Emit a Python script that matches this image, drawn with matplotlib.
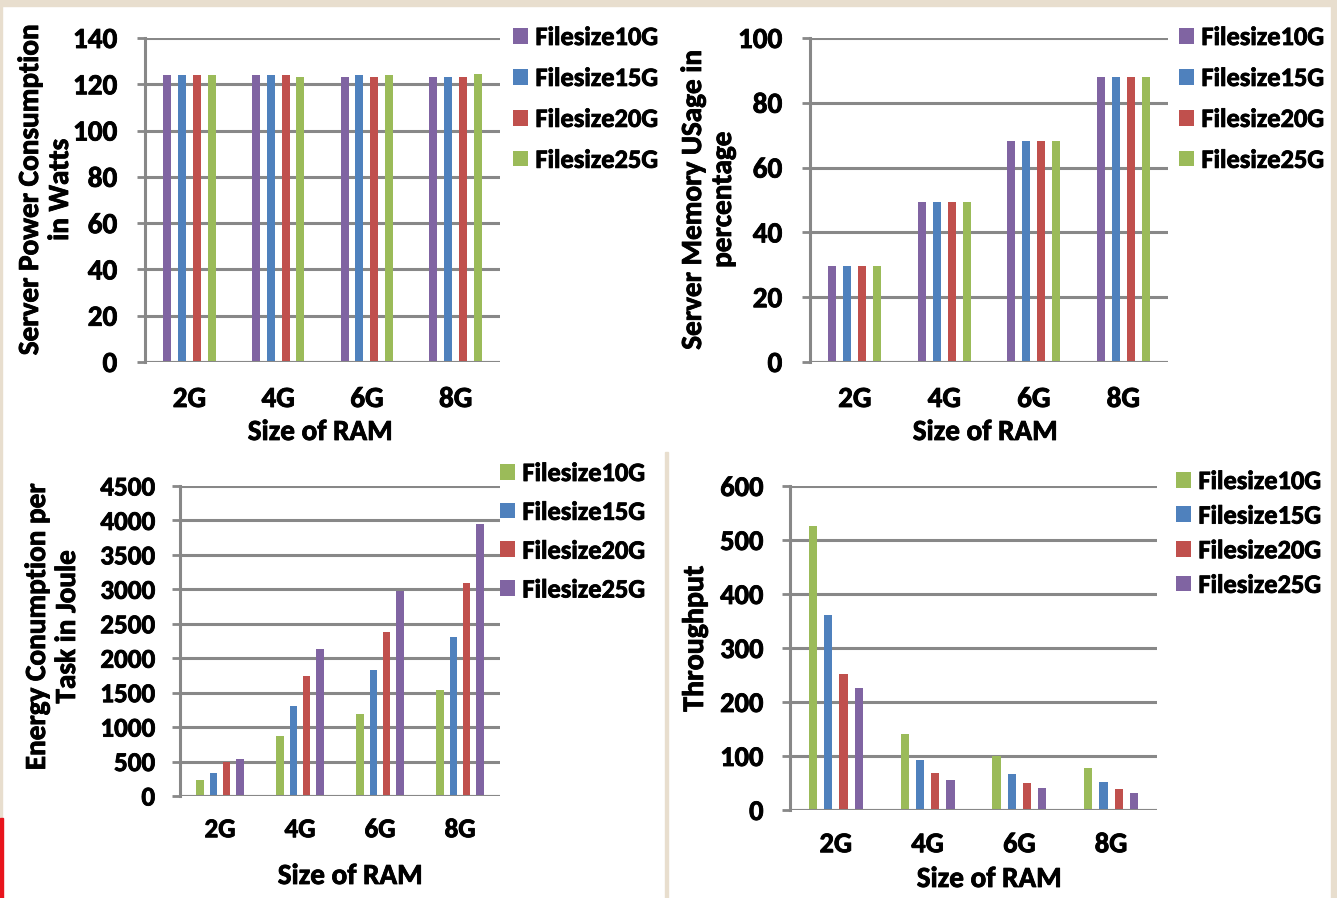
import numpy as np
import matplotlib
matplotlib.use('Agg')
import matplotlib.pyplot as plt
import matplotlib.patheffects as pe
from matplotlib.patches import Rectangle, Patch
from matplotlib.text import Text

plt.rcParams['font.family'] = ['Carlito', 'DejaVu Sans']
plt.rcParams['font.weight'] = 'bold'

W, H = 1337, 898

# data
ram = ['2G', '4G', '6G', '8G']
sizes = ['Filesize10G', 'Filesize15G', 'Filesize20G', 'Filesize25G']

power_10g = [124.2, 124.2, 123.2, 123.2]
power_15g = [124.2, 124.2, 124.2, 123.2]
power_20g = [124.2, 124.2, 123.2, 123.2]
power_25g = [124.2, 123.2, 124.2, 124.6]

mem_10g = [29.5, 49.5, 68.3, 88.0]
mem_15g = [29.5, 49.5, 68.3, 88.0]
mem_20g = [29.5, 49.5, 68.3, 88.0]
mem_25g = [29.5, 49.5, 68.3, 88.0]

energy_10g = [232, 867, 1187, 1536]
energy_15g = [334, 1313, 1836, 2311]
energy_20g = [489, 1749, 2374, 3086]
energy_25g = [533, 2141, 2970, 3953]

thr_10g = [526, 140, 100, 77]
thr_15g = [362, 93, 67, 51]
thr_20g = [252, 69, 49.5, 38]
thr_25g = [226, 55, 41, 32]

purple = '#8064A2'
blue = '#4F81BD'
red = '#C0504D'
green = '#9BBB59'
grid_c = '#888888'
beige = '#e8dece'


def px_axes(fig, x0, x1, y0, y1):
    return fig.add_axes([x0 / W, 1 - y1 / H, (x1 - x0) / W, (y1 - y0) / H])


def bar_panel(ax, series, colors, ymax, ystep, pad, fs, ypad):
    x = np.arange(len(ram))
    offs = [-1.5, -0.5, 0.5, 1.5]
    for vals, c, o in zip(series, colors, offs):
        ax.bar(x + o * 0.167, vals, width=0.09, color=c, zorder=3)
    ax.set_xlim(-0.5, 3.5)
    ax.set_ylim(0, ymax)
    ax.set_yticks(np.arange(0, ymax + 1, ystep))
    ax.set_xticks(x)
    ax.set_xticklabels(ram)
    ax.yaxis.grid(True, color=grid_c, linewidth=2.2, zorder=0)
    for s in ['top', 'right', 'bottom']:
        ax.spines[s].set_visible(False)
    ax.spines['left'].set_color(grid_c)
    ax.spines['left'].set_linewidth(2.2)
    ax.axhline(0, color=grid_c, linewidth=2.2, zorder=4)
    ax.tick_params(axis='y', length=6, width=2, color=grid_c, labelsize=fs, pad=ypad)
    ax.tick_params(axis='x', length=0, labelsize=fs, pad=pad)
    ax.set_facecolor('none')


def legend_at(fig, colors, x, y, spacing):
    handles = [Patch(facecolor=c, edgecolor='none') for c in colors]
    fig.legend(handles, sizes, loc='upper left', bbox_to_anchor=(x / W, 1 - y / H),
               frameon=False, fontsize=19, handlelength=0.55, handleheight=0.55,
               handletextpad=0.3, labelspacing=spacing, borderpad=0, borderaxespad=0)


fig = plt.figure(figsize=(W / 100, H / 100), dpi=100)
fig.patch.set_facecolor('white')

# background strips around the white panels
for (x, y, w, h, c) in [(0, 0, W, 6, beige), (1331, 0, 6, H, beige),
                        (665, 452, 3, H - 452, beige), (0, 0, 2, 818, beige),
                        (0, 818, 3, H - 818, '#e8141c')]:
    fig.patches.append(Rectangle((x / W, 1 - (y + h) / H), w / W, h / H,
                                 transform=fig.transFigure, color=c, zorder=0))

ax1 = px_axes(fig, 145, 500, 38, 362)
bar_panel(ax1, [power_10g, power_15g, power_20g, power_25g],
          [purple, blue, red, green], 140, 20, 18, 21, 14)
legend_at(fig, [purple, blue, red, green], 513, 26, 0.68)
fig.text(45 / W, 1 - 190 / H, 'Server Power Consumption\nin Watts', rotation=90,
         ha='center', va='center', fontsize=21, multialignment='center', linespacing=1.3)
fig.text(320 / W, 1 - 432 / H, 'Size of RAM', ha='center', va='center', fontsize=21)

ax2 = px_axes(fig, 810, 1168, 38, 362)
bar_panel(ax2, [mem_10g, mem_15g, mem_20g, mem_25g],
          [purple, blue, red, green], 100, 20, 18, 21, 14)
legend_at(fig, [purple, blue, red, green], 1179, 26, 0.68)
fig.text(708 / W, 1 - 200 / H, 'Server Memory USage in\npercentage', rotation=90,
         ha='center', va='center', fontsize=21, multialignment='center', linespacing=1.3)
fig.text(985 / W, 1 - 432 / H, 'Size of RAM', ha='center', va='center', fontsize=21)

ax3 = px_axes(fig, 180, 500, 486, 796)
bar_panel(ax3, [energy_10g, energy_15g, energy_20g, energy_25g],
          [green, blue, red, purple], 4500, 500, 16, 19.5, 12)
legend_at(fig, [green, blue, red, purple], 500, 462, 0.6)
fig.text(52 / W, 1 - 627 / H, 'Energy Conumption per\nTask in Joule', rotation=90,
         ha='center', va='center', fontsize=21, multialignment='center', linespacing=1.3)
fig.text(350 / W, 1 - 876 / H, 'Size of RAM', ha='center', va='center', fontsize=21)

ax4 = px_axes(fig, 790, 1157, 486, 810)
bar_panel(ax4, [thr_10g, thr_15g, thr_20g, thr_25g],
          [green, blue, red, purple], 600, 100, 16, 20.5, 13)
legend_at(fig, [green, blue, red, purple], 1176, 470, 0.44)
fig.text(695 / W, 1 - 639 / H, 'Throughput', rotation=90,
         ha='center', va='center', fontsize=21.5)
fig.text(989 / W, 1 - 879 / H, 'Size of RAM', ha='center', va='center', fontsize=21)

# a touch heavier, like the original Calibri bold rendering
for t in fig.findobj(Text):
    t.set_path_effects([pe.withStroke(linewidth=0.6, foreground='black')])

fig.savefig('out.png', dpi=100)
